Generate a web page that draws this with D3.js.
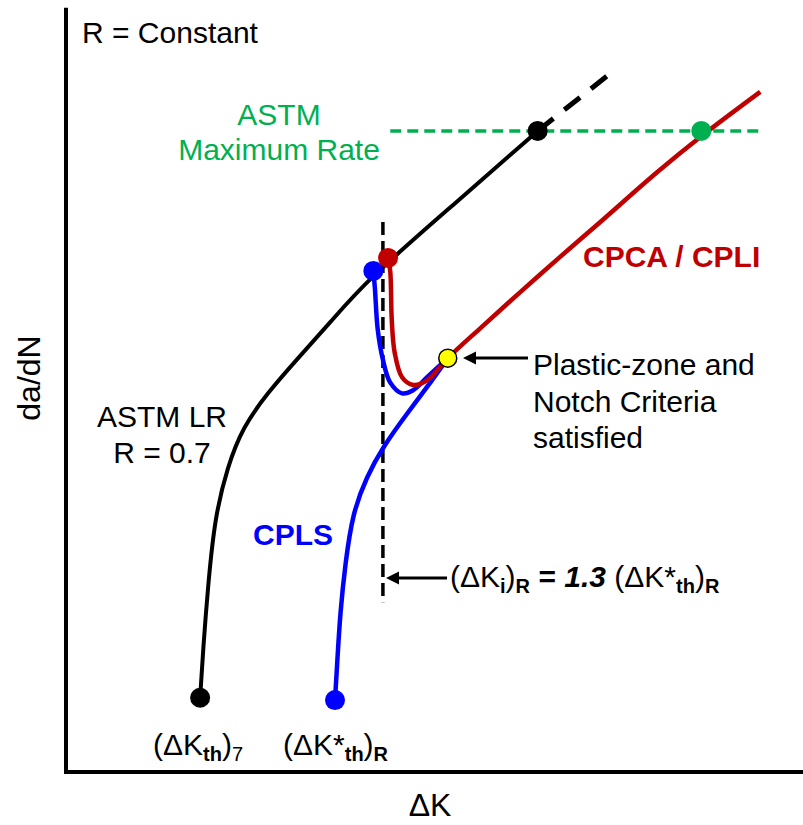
<!DOCTYPE html>
<html>
<head>
<meta charset="utf-8">
<script src="https://cdn.jsdelivr.net/npm/d3@7"></script>
<style>
  body { margin: 0; background: #fff; }
  svg { display: block; font-family: "Liberation Sans", Arial, sans-serif; }
</style>
</head>
<body>
<svg width="803" height="825"></svg>
<script>
// schematic curves, arbitrary units (0-100 on both axes)
const astmLR = [[18.2,9.7],[18.6,16],[19.3,24.7],[20.2,33.3],[21.9,39.9],[24,45.1],[27.3,49.5],[31.3,53.9],[35.8,58.7],[40.8,64.3],[52.4,74],[64,83.8]];
const astmExt = [[64,83.8],[74.1,91.5]];
const cpca = [[43.7,67.2],[44,65.4],[44.2,59.1],[44.6,54.8],[45.6,51.6],[47.1,50.6],[49,51.2],[51.8,54.1],[56.2,58],[61.6,62.7],[67,67.3],[72.5,71.9],[80.2,78.4],[86.2,83.1],[94.2,88.9]];
const cplsUpper = [[41.7,65.5],[41.9,63.4],[42.3,57.8],[43,53.9],[44,50.9],[45.6,49.5],[47.1,49.9],[49,51.6],[51.8,54.1]];
const cplsLower = [[51.8,54.1],[49,50.3],[46.3,46.9],[43,42.5],[40.8,38.6],[38.9,33.9],[37.9,27.3],[37.2,20.8],[36.8,14.3],[36.5,9.4]];
const kiLine = [[43,71.9],[43,22.2]];
const maxRate = [[44,83.8],[94.6,83.8]];

const points = [
  {x: 18.2, y: 9.7, c: "#000"},
  {x: 36.5, y: 9.4, c: "#0000ff"},
  {x: 41.7, y: 65.5, c: "#0000ff"},
  {x: 43.7, y: 67.2, c: "#c00000"},
  {x: 64, y: 83.8, c: "#000"},
  {x: 86.2, y: 83.8, c: "#00b050"},
  {x: 51.8, y: 54.1, c: "#ffff00", s: "#000"}
];

const svg = d3.select("svg");
const x = d3.scaleLinear().domain([0, 100]).range([66, 803]);
const y = d3.scaleLinear().domain([0, 100]).range([772, 7]);

const smooth = d3.line().x(d => x(d[0])).y(d => y(d[1])).curve(d3.curveCatmullRom.alpha(0.5));
const soft = d3.line().x(d => x(d[0])).y(d => y(d[1])).curve(d3.curveBasis);
const straight = d3.line().x(d => x(d[0])).y(d => y(d[1]));

svg.append("defs").append("marker")
  .attr("id", "head")
  .attr("viewBox", "0 0 10 10")
  .attr("refX", 7).attr("refY", 5)
  .attr("markerWidth", 4.5).attr("markerHeight", 4.5)
  .attr("markerUnits", "strokeWidth")
  .attr("orient", "auto")
  .append("path").attr("d", "M0,0 L10,5 L0,10 Z").attr("fill", "#000");

// axes
svg.append("path")
  .attr("d", straight([[0, 99.9], [0, 0], [100, 0]]))
  .attr("fill", "none").attr("stroke", "#000").attr("stroke-width", 4);

const curve = (data, color, line, dash) => svg.append("path")
  .attr("d", line(data))
  .attr("fill", "none")
  .attr("stroke", color)
  .attr("stroke-width", 4)
  .attr("stroke-dasharray", dash || null);

curve(maxRate, "#00b050", straight, "11,6").attr("stroke-width", 3.5);
curve(astmLR, "#000", soft);
curve(astmExt, "#000", straight, "20,14").attr("stroke-width", 5);
curve(kiLine, "#000", straight, "13,6").attr("stroke-width", 3.5);
curve(cplsLower, "#0000ff", soft).attr("stroke-width", 4.5);
curve(cplsUpper, "#0000ff", smooth).attr("stroke-width", 4.5);
curve(cpca, "#c00000", smooth).attr("stroke-width", 4.5);

svg.selectAll("circle.pt").data(points).join("circle")
  .attr("class", "pt")
  .attr("cx", d => x(d.x)).attr("cy", d => y(d.y))
  .attr("r", d => d.s ? 9 : 10)
  .attr("fill", d => d.c)
  .attr("stroke", d => d.s || "none")
  .attr("stroke-width", 1.5);

// arrows
const arrow = (x1, x2, yy) => svg.append("line")
  .attr("x1", x1).attr("x2", x2).attr("y1", yy).attr("y2", yy)
  .attr("stroke", "#000").attr("stroke-width", 3)
  .attr("marker-end", "url(#head)");
arrow(528, 467, 358);
arrow(447, 390, 578);

// text
const txt = (tx, ty, s, opts = {}) => svg.append("text")
  .attr("x", tx).attr("y", ty)
  .attr("font-size", opts.size || 30)
  .attr("font-weight", opts.bold ? "bold" : null)
  .attr("fill", opts.fill || "#000")
  .attr("text-anchor", opts.anchor || "start")
  .text(s);

txt(82, 43, "R = Constant");
txt(279, 125, "ASTM", {fill: "#00b050", anchor: "middle"});
txt(279, 160, "Maximum Rate", {fill: "#00b050", anchor: "middle"});
txt(583, 267, "CPCA / CPLI", {fill: "#c00000", bold: true});
txt(533, 375, "Plastic-zone and");
txt(533, 412, "Notch Criteria");
txt(533, 448, "satisfied");
txt(162, 427, "ASTM LR", {anchor: "middle"});
txt(162, 463, "R = 0.7", {anchor: "middle"});
txt(253, 545, "CPLS", {fill: "#0000ff", bold: true});
txt(430, 816, "ΔK", {size: 32, anchor: "middle"});

svg.append("text")
  .attr("transform", "translate(40,378) rotate(-90)")
  .attr("font-size", 32).attr("text-anchor", "middle")
  .text("da/dN");

// labels with subscripts: [text, size, weight, dy, style]
const rich = (tx, ty, parts) => {
  const t = svg.append("text").attr("x", tx).attr("y", ty).attr("font-size", 30);
  parts.forEach(p => t.append("tspan")
    .attr("font-size", p[1])
    .attr("font-weight", p[2])
    .attr("font-style", p[4] || null)
    .attr("dy", p[3])
    .text(p[0]));
};

rich(153, 755, [["(ΔK", 30, "normal", 0], ["th", 20, "bold", 6], [")", 30, "normal", -6], ["7", 20, "normal", 6]]);
rich(283, 755, [["(ΔK*", 30, "normal", 0], ["th", 20, "bold", 6], [")", 30, "normal", -6], ["R", 20, "bold", 6]]);
rich(450, 587, [["(ΔK", 30, "normal", 0], ["i", 20, "bold", 6], [")", 30, "normal", -6], ["R", 20, "bold", 6],
  [" = ", 30, "bold", -6], ["1.3", 30, "bold", 0, "italic"], [" (ΔK*", 30, "normal", 0], ["th", 20, "bold", 6],
  [")", 30, "normal", -6], ["R", 20, "bold", 6]]);
</script>
</body>
</html>
